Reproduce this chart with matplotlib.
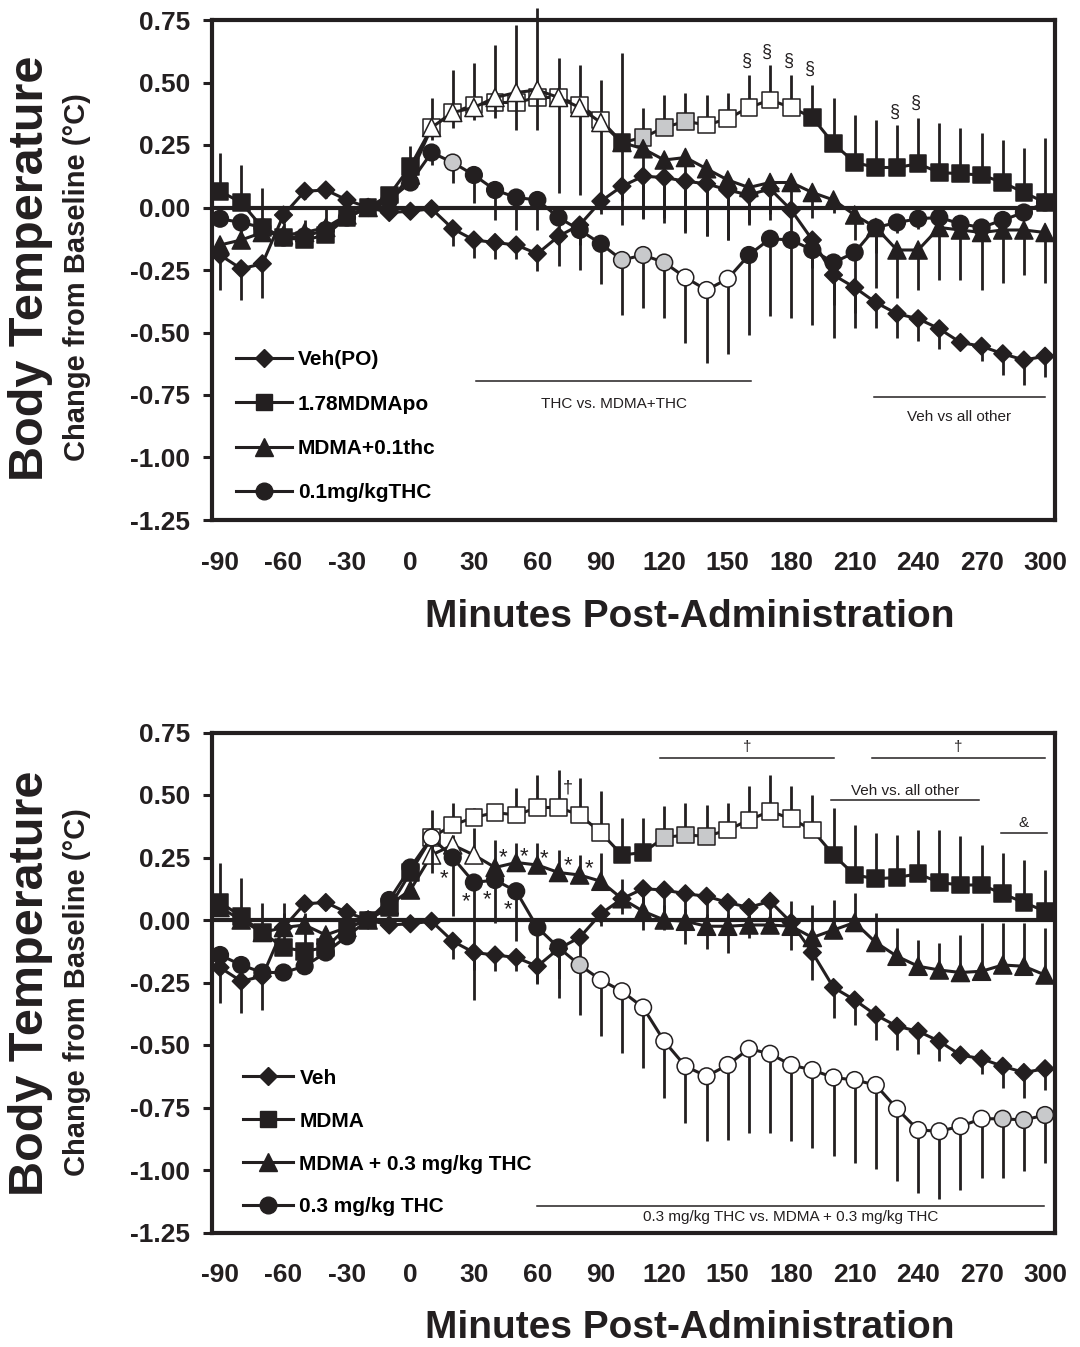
import matplotlib
matplotlib.use('Agg')
import matplotlib.pyplot as plt
from matplotlib.lines import Line2D
import numpy as np

plt.rcParams['font.family'] = ['Liberation Sans', 'DejaVu Sans']
plt.rcParams['font.weight'] = 'bold'
plt.rcParams['axes.unicode_minus'] = False

INK = '#231f20'
GREY = '#c8c9cb'
FILLS = {'k': INK, 'w': 'white', 'g': GREY}

# ==========================================
# Data (change from baseline, deg C), one value per 10 min
# ==========================================
minutes = [-90, -80, -70, -60, -50, -40, -30, -20, -10, 0,
           10, 20, 30, 40, 50, 60, 70, 80, 90, 100,
           110, 120, 130, 140, 150, 160, 170, 180, 190, 200,
           210, 220, 230, 240, 250, 260, 270, 280, 290, 300]

# vehicle group, same in both panels
veh_mean = [-0.19, -0.245, -0.225, -0.03, 0.065, 0.07, 0.03, 0.0, -0.02, -0.015,
            -0.005, -0.085, -0.13, -0.14, -0.15, -0.185, -0.115, -0.07, 0.025, 0.085,
            0.125, 0.12, 0.105, 0.095, 0.07, 0.05, 0.075, -0.01, -0.13, -0.27,
            -0.32, -0.38, -0.425, -0.445, -0.485, -0.54, -0.555, -0.585, -0.61, -0.595]
veh_err = [0.14, 0.125, 0.135, 0.03, 0.03, 0.03, 0.03, 0.02, 0.02, 0.02,
           0.02, 0.07, 0.07, 0.065, 0.055, 0.07, 0.12, 0.08, 0.05, 0.06,
           0.165, 0.16, 0.2, 0.21, 0.2, 0.12, 0.1, 0.11, 0.11, 0.12,
           0.10, 0.10, 0.095, 0.09, 0.08, 0.03, 0.06, 0.085, 0.10, 0.085]
veh_fill = 'k' * 40

# --- top panel: 0.1 mg/kg THC experiment ---
top_mdma_mean = [0.065, 0.02, -0.08, -0.12, -0.13, -0.11, -0.04, 0.0, 0.05, 0.165,
                 0.32, 0.38, 0.41, 0.42, 0.42, 0.44, 0.44, 0.41, 0.35, 0.26,
                 0.28, 0.32, 0.345, 0.33, 0.355, 0.40, 0.43, 0.40, 0.36, 0.255,
                 0.18, 0.16, 0.16, 0.175, 0.14, 0.135, 0.13, 0.10, 0.06, 0.02]
top_mdma_err = [0.155, 0.15, 0.16, 0.06, 0.08, 0.11, 0.03, 0.02, 0.03, 0.08,
                0.12, 0.17, 0.17, 0.23, 0.31, 0.36, 0.16, 0.16, 0.16, 0.36,
                0.12, 0.13, 0.115, 0.12, 0.105, 0.13, 0.14, 0.13, 0.13, 0.185,
                0.19, 0.19, 0.17, 0.185, 0.2, 0.185, 0.17, 0.17, 0.18, 0.26]
top_mdma_fill = 'kkkkkkkkkk' 'wwwwwwwww' 'k' 'ggg' 'wwwww' 'kkkkkkkkkkkk'

top_combo_mean = [-0.15, -0.13, -0.10, -0.11, -0.10, -0.08, -0.03, 0.0, 0.02, 0.13,
                  0.32, 0.38, 0.40, 0.44, 0.46, 0.47, 0.44, 0.40, 0.34, 0.26,
                  0.235, 0.19, 0.20, 0.155, 0.11, 0.08, 0.10, 0.10, 0.06, 0.03,
                  -0.03, -0.08, -0.17, -0.17, -0.08, -0.09, -0.10, -0.09, -0.09, -0.10]
top_combo_err = [0.03, 0.03, 0.03, 0.03, 0.03, 0.03, 0.03, 0.02, 0.02, 0.03,
                 0.05, 0.06, 0.05, 0.08, 0.15, 0.16, 0.38, 0.35, 0.34, 0.33,
                 0.28, 0.25, 0.3, 0.27, 0.24, 0.14, 0.15, 0.1, 0.1, 0.05,
                 0.1, 0.1, 0.19, 0.16, 0.21, 0.2, 0.23, 0.21, 0.18, 0.2]
top_combo_fill = 'kkkkkkkkkk' 'wwwwwwwww' + 'k' * 21

top_thc_mean = [-0.045, -0.06, -0.08, -0.12, -0.115, -0.09, -0.04, 0.0, 0.03, 0.10,
                0.22, 0.18, 0.13, 0.07, 0.04, 0.03, -0.04, -0.09, -0.145, -0.21,
                -0.19, -0.22, -0.28, -0.33, -0.285, -0.19, -0.125, -0.13, -0.17, -0.22,
                -0.18, -0.08, -0.06, -0.045, -0.04, -0.065, -0.08, -0.05, -0.02, 0.02]
top_thc_err = [0.03, 0.04, 0.04, 0.03, 0.03, 0.03, 0.03, 0.02, 0.02, 0.03,
               0.05, 0.08, 0.11, 0.12, 0.13, 0.12, 0.05, 0.16, 0.16, 0.22,
               0.21, 0.22, 0.26, 0.29, 0.30, 0.32, 0.31, 0.31, 0.30, 0.30,
               0.30, 0.24, 0.04, 0.04, 0.04, 0.03, 0.03, 0.03, 0.03, 0.03]
top_thc_fill = 'kkkkkkkkkkk' 'g' 'kkkkkkk' 'ggg' 'www' + 'k' * 15

# --- bottom panel: 0.3 mg/kg THC experiment ---
bot_mdma_mean = [0.07, 0.015, -0.05, -0.11, -0.125, -0.11, -0.03, 0.0, 0.05, 0.19,
                 0.33, 0.38, 0.41, 0.43, 0.42, 0.45, 0.45, 0.42, 0.35, 0.26,
                 0.27, 0.33, 0.34, 0.335, 0.36, 0.40, 0.435, 0.405, 0.36, 0.26,
                 0.18, 0.165, 0.17, 0.185, 0.15, 0.14, 0.14, 0.105, 0.07, 0.035]
bot_mdma_err = [0.16, 0.155, 0.12, 0.18, 0.125, 0.06, 0.03, 0.02, 0.03, 0.04,
                0.11, 0.09, 0.04, 0.02, 0.11, 0.13, 0.15, 0.15, 0.165, 0.15,
                0.14, 0.125, 0.13, 0.125, 0.11, 0.135, 0.145, 0.13, 0.14, 0.19,
                0.20, 0.185, 0.17, 0.175, 0.21, 0.195, 0.16, 0.165, 0.17, 0.165]
bot_mdma_fill = 'kkkkkkkkkk' 'wwwwwwwww' 'kk' 'ggg' 'wwwww' 'kkkkkkkkkkk'

bot_combo_mean = [0.05, 0.0, -0.05, -0.03, -0.02, -0.06, -0.03, 0.0, 0.06, 0.12,
                  0.26, 0.30, 0.26, 0.21, 0.23, 0.22, 0.19, 0.18, 0.155, 0.085,
                  0.035, 0.0, -0.005, -0.025, -0.025, -0.02, -0.02, -0.025, -0.07, -0.04,
                  -0.01, -0.09, -0.145, -0.185, -0.20, -0.21, -0.205, -0.18, -0.185, -0.22]
bot_combo_err = [0.03, 0.03, 0.03, 0.06, 0.05, 0.03, 0.03, 0.02, 0.03, 0.03,
                 0.04, 0.04, 0.11, 0.11, 0.08, 0.09, 0.09, 0.08, 0.115, 0.08,
                 0.08, 0.06, 0.05, 0.05, 0.05, 0.05, 0.05, 0.10, 0.13, 0.12,
                 0.12, 0.12, 0.115, 0.105, 0.11, 0.15, 0.195, 0.17, 0.175, 0.19]
bot_combo_fill = 'kkkkkkkkkk' 'www' + 'k' * 27

bot_thc_mean = [-0.14, -0.18, -0.21, -0.21, -0.185, -0.13, -0.065, 0.0, 0.08, 0.21,
                0.33, 0.25, 0.15, 0.16, 0.115, -0.03, -0.11, -0.18, -0.24, -0.285,
                -0.35, -0.485, -0.585, -0.625, -0.58, -0.515, -0.535, -0.58, -0.60, -0.63,
                -0.64, -0.66, -0.755, -0.84, -0.845, -0.825, -0.795, -0.795, -0.80, -0.78]
bot_thc_err = [0.05, 0.04, 0.04, 0.03, 0.03, 0.03, 0.03, 0.02, 0.02, 0.03,
               0.14, 0.235, 0.47, 0.17, 0.2, 0.22, 0.20, 0.20, 0.225, 0.245,
               0.24, 0.225, 0.225, 0.26, 0.30, 0.335, 0.315, 0.305, 0.31, 0.315,
               0.33, 0.335, 0.29, 0.25, 0.27, 0.255, 0.235, 0.235, 0.205, 0.19]
bot_thc_fill = 'kkkkkkkkkk' 'w' 'kkkkkk' 'g' + 'w' * 19 + 'ggg'

top_labels = ['Veh(PO)', '1.78MDMApo', 'MDMA+0.1thc', '0.1mg/kgTHC']
bot_labels = ['Veh', 'MDMA', 'MDMA + 0.3 mg/kg THC', '0.3 mg/kg THC']

# significance symbols: (minute, value, symbol)
top_marks = [(158.9, 0.584, '§'), (168.5, 0.62, '§'), (178.9, 0.584, '§'),
             (188.8, 0.552, '§'), (229.1, 0.379, '§'), (239.1, 0.416, '§')]
bot_marks = [(74.5, 0.53, '†'),
             (43.8, 0.248, '*'), (53.7, 0.252, '*'), (63.2, 0.244, '*'),
             (74.5, 0.216, '*'), (84.4, 0.204, '*'),
             (15.9, 0.164, '*'), (26.3, 0.072, '*'), (36.2, 0.080, '*'), (46.1, 0.040, '*')]
# comparison bars: (start, end, bar level, label, label level)
top_spans = [(31, 161, -0.693, 'THC vs. MDMA+THC', -0.785),
             (219, 300, -0.757, 'Veh vs all other', -0.837)]
bot_spans = [(118, 200, 0.648, '†', 0.692),
             (218, 300, 0.648, '†', 0.692),
             (199, 269, 0.48, 'Veh vs. all other', 0.516),
             (279, 301, 0.348, '&', 0.388),
             (60, 299.5, -1.144, '0.3 mg/kg THC vs. MDMA + 0.3 mg/kg THC', -1.188)]


# ==========================================
# Drawing helpers
# ==========================================
def draw_group(ax, mean, err, direction, marker, ms, fill, z):
    mean = np.asarray(mean)
    err = np.asarray(err)
    zeros = np.zeros_like(err)
    yerr = [zeros, err] if direction == 'up' else [err, zeros]
    ax.errorbar(minutes, mean, yerr=yerr, fmt='none', ecolor=INK,
                elinewidth=2.0, capsize=0, zorder=z, clip_on=False)
    ax.plot(minutes, mean, color=INK, lw=2.2, zorder=z + 0.1, clip_on=False)
    ax.scatter(minutes, mean, s=ms ** 2, marker=marker,
               c=[FILLS[f] for f in fill], edgecolors=INK, linewidths=1.1,
               zorder=z + 0.2, clip_on=False)


def style_axes(ax):
    ax.set_xlim(-93.8, 304.7)
    ax.set_ylim(-1.25, 0.75)
    ax.set_xticks(np.arange(-90, 301, 30))
    ax.set_yticks(np.arange(-1.25, 0.76, 0.25))
    ax.set_yticklabels([f'{v:.2f}' for v in np.arange(-1.25, 0.76, 0.25)])
    for s in ax.spines.values():
        s.set_linewidth(3)
        s.set_color(INK)
    ax.tick_params(axis='y', direction='out', length=6.5, width=2.2,
                   pad=9, labelsize=19, colors=INK)
    ax.tick_params(axis='x', length=0, pad=22, labelsize=19, colors=INK)
    ax.axhline(0, color=INK, lw=3, zorder=1.5)


def draw_panel(ax, groups, labels, marks, spans, legend_anchor, spacing, hlen):
    style_axes(ax)
    markers = []
    for i, (mean, err, direction, marker, ms, fill) in enumerate(groups):
        draw_group(ax, mean, err, direction, marker, ms, fill, 2 + i)
        markers.append((marker, ms))
    for x, y, sym in marks:
        size = 16 if sym == '*' else 13
        ax.text(x, y, sym, ha='center', va='center', fontsize=size,
                fontweight='normal', color=INK, zorder=10)
    for x0, x1, yb, txt, yt in spans:
        ax.plot([x0, x1], [yb, yb], color=INK, lw=1.1, zorder=10)
        ax.text((x0 + x1) / 2, yt, txt, ha='center', va='center',
                fontsize=11, fontweight='normal', color=INK, zorder=10)
    handles = [Line2D([], [], color=INK, lw=2.2, marker=m, markersize=ms,
                      markerfacecolor=INK, markeredgecolor=INK)
               for m, ms in markers]
    ax.legend(handles, labels, loc='lower left', bbox_to_anchor=legend_anchor,
              frameon=False, prop={'size': 15, 'weight': 'bold'},
              handlelength=hlen, handletextpad=0.3, labelspacing=spacing,
              borderpad=0, borderaxespad=0)


fig = plt.figure(figsize=(10.8, 13.47), dpi=100)
W, H = 1080, 1347
ax_top = fig.add_axes([212 / W, (H - 520) / H, 843 / W, 500 / H])
ax_bot = fig.add_axes([212 / W, (H - 1232.5) / H, 843 / W, 500 / H])

draw_panel(ax_top,
           [(veh_mean, veh_err, 'down', 'D', 9, veh_fill),
            (top_mdma_mean, top_mdma_err, 'up', 's', 12, top_mdma_fill),
            (top_combo_mean, top_combo_err, 'down', '^', 13, top_combo_fill),
            (top_thc_mean, top_thc_err, 'down', 'o', 12, top_thc_fill)],
           top_labels, top_marks, top_spans, (0.028, 0.035), 1.22, 2.7)

draw_panel(ax_bot,
           [(veh_mean, veh_err, 'down', 'D', 9, veh_fill),
            (bot_mdma_mean, bot_mdma_err, 'up', 's', 12, bot_mdma_fill),
            (bot_combo_mean, bot_combo_err, 'up', '^', 13, bot_combo_fill),
            (bot_thc_mean, bot_thc_err, 'down', 'o', 12, bot_thc_fill)],
           bot_labels, bot_marks, bot_spans, (0.037, 0.032), 1.15, 2.4)

for yc_body, yc_change, yc_x in [(268, 277, 617), (983, 992, 1328)]:
    fig.text(31 / W, 1 - yc_body / H, 'Body Temperature', rotation=90,
             ha='center', va='center', fontsize=35, color=INK)
    fig.text(77 / W, 1 - yc_change / H, 'Change from Baseline (°C)', rotation=90,
             ha='center', va='center', fontsize=21, color=INK)
    fig.text(690 / W, 1 - yc_x / H, 'Minutes Post-Administration',
             ha='center', va='center', fontsize=28, color=INK)

fig.savefig('out.png', dpi=100)
